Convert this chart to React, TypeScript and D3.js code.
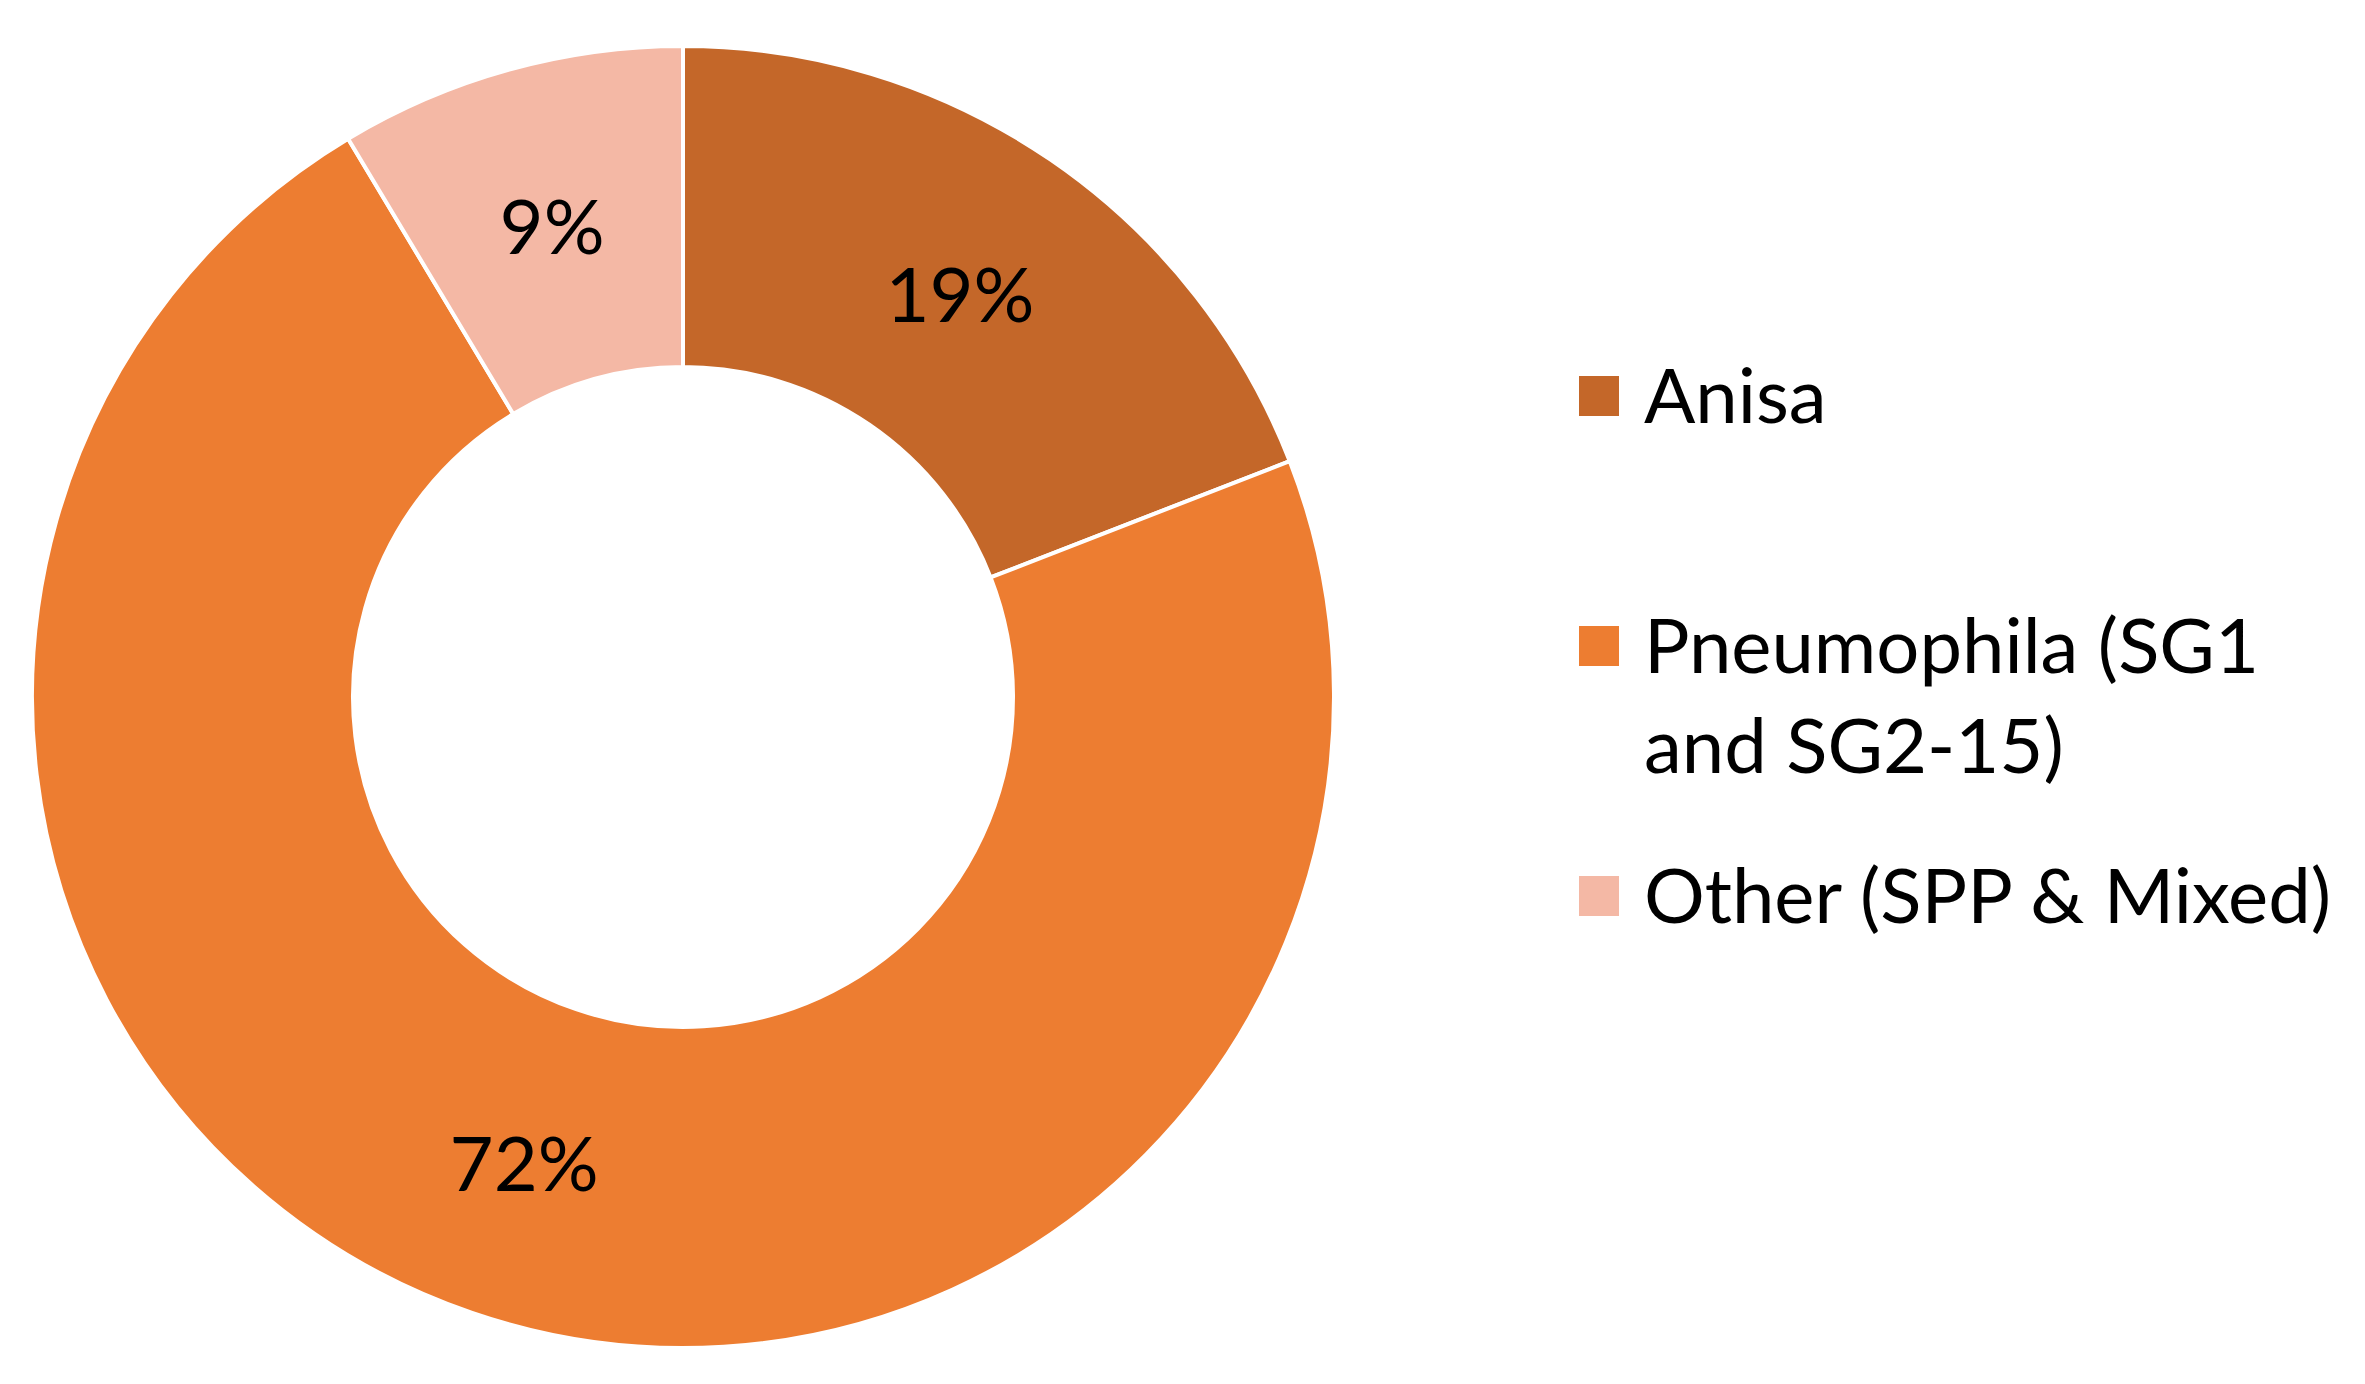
import React from "react";
import * as d3 from "d3";

const categories = ["Anisa", "Pneumophila (SG1 and SG2-15)", "Other (SPP & Mixed)"];
const values = [19.1, 72.3, 8.6];
const colors = ["#C46729", "#ED7D31", "#F4B8A5"];
const legendLines = [["Anisa"], ["Pneumophila (SG1", "and SG2-15)"], ["Other (SPP & Mixed)"]];

const W = 2365;
const H = 1384;
const cx = 683;
const cy = 697;
const outerR = 651;
const innerR = 330;
const FONT = "Lato, 'Open Sans', sans-serif";
const FS = 76;

export default function App() {
  const pie = d3.pie<number>().value((d) => d).sort(null);
  const arcs = pie(values);
  const arc = d3.arc<d3.PieArcDatum<number>>().innerRadius(innerR).outerRadius(outerR);
  const total = d3.sum(values);

  const legendX = 1579;
  const legendTops = [376, 626, 876];
  const sq = 40;

  return (
    <svg
      width={W}
      height={H}
      style={{ position: "absolute", left: 0, top: 0, background: "#fff" }}
      fontFamily={FONT}
    >
      <rect x={0} y={0} width={W} height={H} fill="#fff" />
      <g transform={`translate(${cx},${cy})`}>
        {arcs.map((a, i) => (
          <path key={i} d={arc(a) || ""} fill={colors[i]} stroke="#fff" strokeWidth={4} />
        ))}
        {arcs.map((a, i) => {
          const [x, y] = arc.centroid(a);
          return (
            <text
              key={"l" + i}
              x={x}
              y={y}
              textAnchor="middle"
              dominantBaseline="central"
              fontSize={FS}
              fill="#000"
            >
              {`${Math.round((values[i] / total) * 100)}%`}
            </text>
          );
        })}
      </g>
      <g>
        {categories.map((c, i) => (
          <g key={c}>
            <rect x={legendX} y={legendTops[i]} width={sq} height={sq} fill={colors[i]} />
            {legendLines[i].map((line, j) => (
              <text
                key={j}
                x={1644}
                y={legendTops[i] + 47 + j * 100}
                fontSize={FS}
                fill="#000"
              >
                {line}
              </text>
            ))}
          </g>
        ))}
      </g>
    </svg>
  );
}
